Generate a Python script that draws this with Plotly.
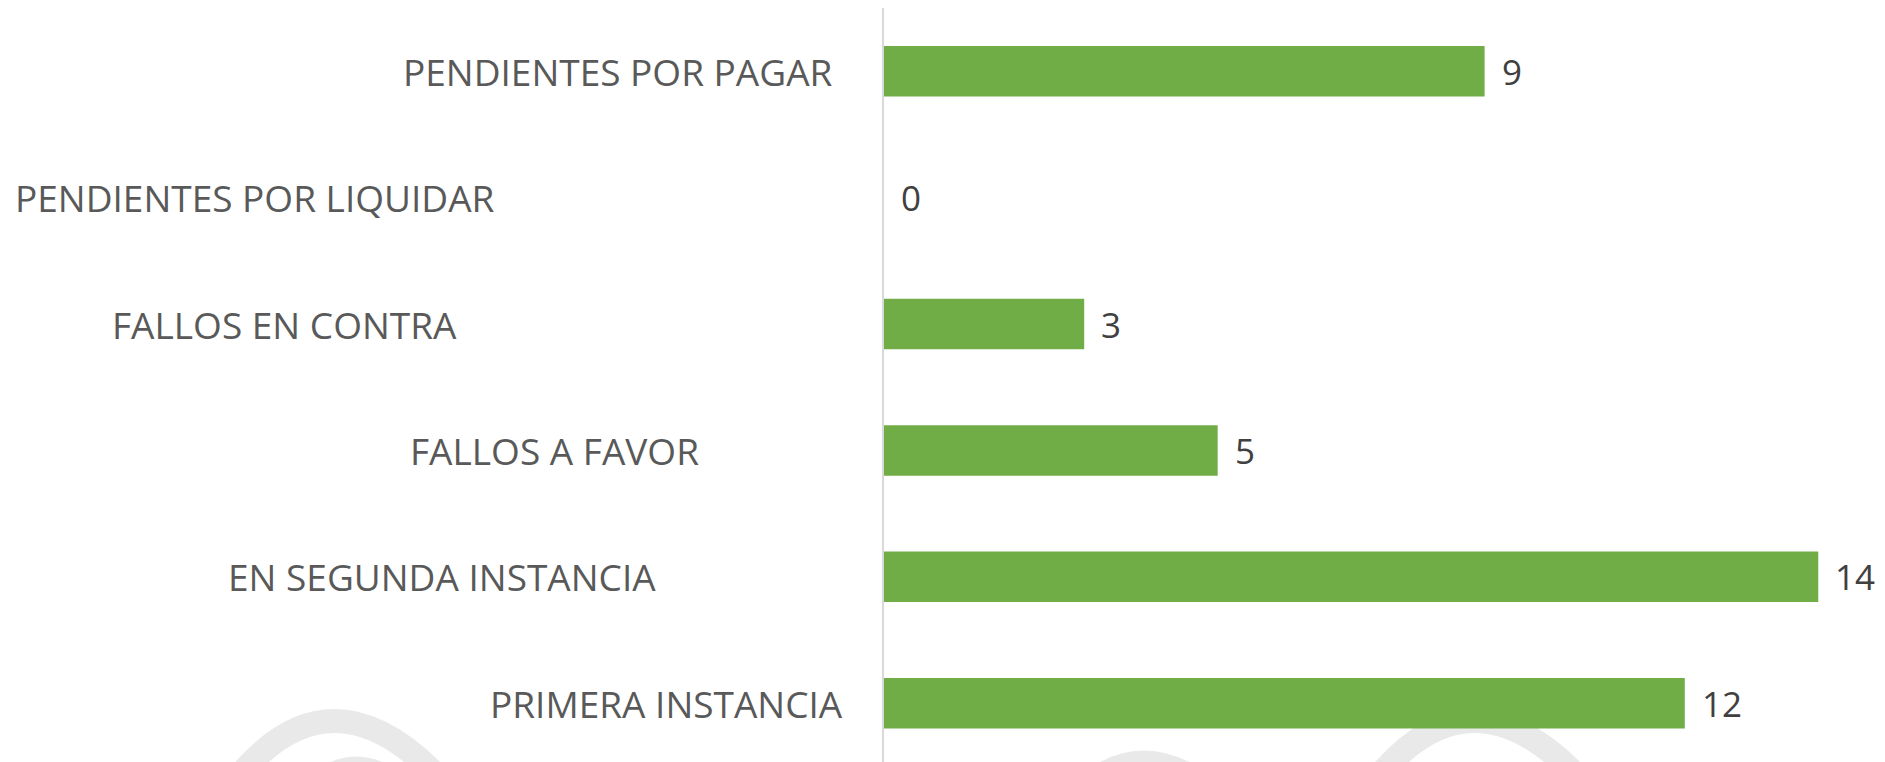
import plotly.graph_objects as go

# Categories listed bottom-to-top, with the count for each
categories = [
    "PRIMERA INSTANCIA",
    "EN SEGUNDA INSTANCIA",
    "FALLOS A FAVOR",
    "FALLOS EN CONTRA",
    "PENDIENTES POR LIQUIDAR",
    "PENDIENTES POR PAGAR",
]
values = [12, 14, 5, 3, 0, 9]

# Right edge (page pixels) of each category caption
label_right_px = [845, 658, 701, 459, 497, 835]

W, H = 1885, 762
M_L, M_R, M_T, M_B = 884, 0, 8, 0
PLOT_W = W - M_L - M_R
PLOT_H = H - M_T - M_B

BAR_GREEN = "#70ad47"
LABEL_GREY = "#595959"
VALUE_GREY = "#404040"
AXIS_GREY = "#d9d9d9"
MARK_GREY = "#e9e9ea"
FONT = "Open Sans"


def px(x, y):
    """Page pixel -> paper coordinates."""
    return (x - M_L) / PLOT_W, (H - M_B - y) / PLOT_H


def arc(x0, y0, cx, cy, x1, y1):
    a, b, c = px(x0, y0), px(cx, cy), px(x1, y1)
    return f"M {a[0]},{a[1]} Q {b[0]},{b[1]} {c[0]},{c[1]}"


fig = go.Figure(
    go.Bar(
        x=values,
        y=categories,
        orientation="h",
        marker=dict(color=BAR_GREEN, line=dict(width=0)),
        hoverinfo="skip",
    )
)

# Faint background emblem strokes along the lower edge
emblem = [
    (arc(228, 790, 330, 652, 450, 790), 24),
    (arc(305, 790, 352, 735, 415, 790), 12),
    (arc(1090, 775, 1143, 738, 1200, 775), 12),
    (arc(1368, 790, 1470, 652, 1590, 790), 24),
]
shapes = [
    dict(type="path", path=p, xref="paper", yref="paper",
         line=dict(color=MARK_GREY, width=w), layer="below")
    for p, w in emblem
]

annotations = []
# Category captions
for cat, right in zip(categories, label_right_px):
    annotations.append(dict(
        x=0, xref="paper", y=cat, yref="y",
        text=cat, showarrow=False, xanchor="right", yanchor="middle",
        xshift=right - M_L,
        font=dict(family=FONT, size=37, color=LABEL_GREY),
    ))
# Value labels beside each bar
for cat, v in zip(categories, values):
    annotations.append(dict(
        x=v, xref="x", y=cat, yref="y",
        text=str(v), showarrow=False, xanchor="left", yanchor="middle",
        xshift=15,
        font=dict(family=FONT, size=35, color=VALUE_GREY),
    ))

fig.update_layout(
    width=W, height=H,
    margin=dict(l=M_L, r=M_R, t=M_T, b=M_B, pad=0),
    paper_bgcolor="white", plot_bgcolor="rgba(0,0,0,0)",
    bargap=0.6,
    showlegend=False,
    shapes=shapes,
    annotations=annotations,
    xaxis=dict(range=[0, 15], visible=False, fixedrange=True),
    yaxis=dict(
        type="category",
        categoryorder="array", categoryarray=categories,
        range=[-0.465, 5.5],
        showticklabels=False, ticks="",
        showgrid=False, zeroline=False,
        showline=True, linecolor=AXIS_GREY, linewidth=2,
        fixedrange=True,
    ),
)

fig.write_html("out.html", config={"displayModeBar": False})
